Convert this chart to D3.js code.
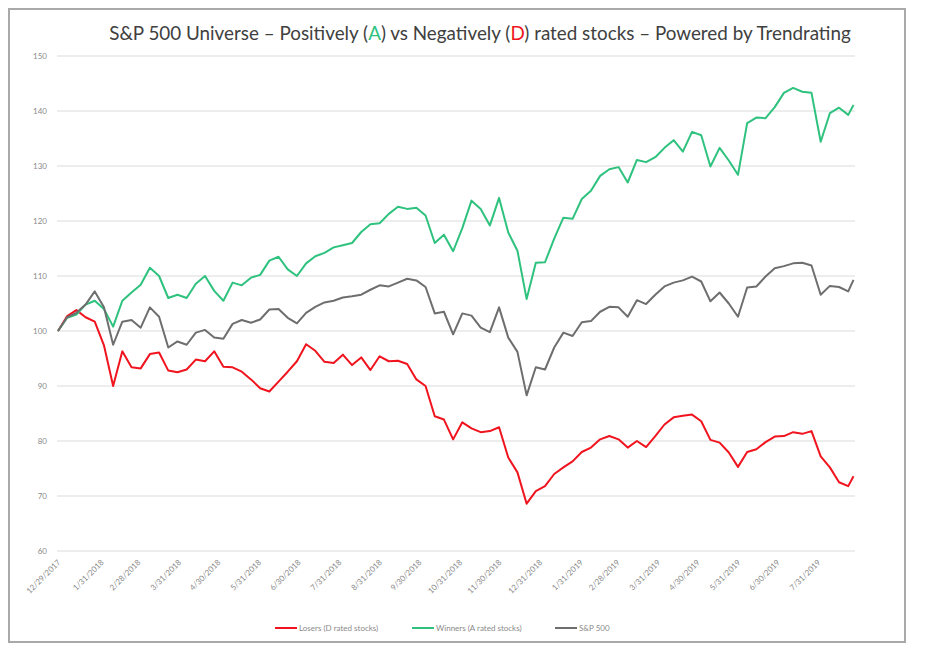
<!DOCTYPE html>
<html>
<head>
<meta charset="utf-8">
<script src="https://cdn.jsdelivr.net/npm/d3@7"></script>
<style>
    body { margin: 0; background: #fff; }
    text { font-family: "Lato", "Open Sans", sans-serif; }
</style>
</head>
<body>
<div id="chart"></div>
<script>

// weekly closes (last point is the final day shown)
let dates = d3.timeFriday.range(new Date(2017, 11, 29), new Date(2019, 7, 24));
dates.push(new Date(2019, 7, 27));

let winners = [
    100, 102.4, 103, 104.8, 105.5, 104, 100.8, 105.5, 107, 108.4,
    111.5, 110, 106, 106.6, 106, 108.6, 110, 107.3, 105.5, 108.8,
    108.3, 109.7, 110.2, 112.8, 113.5, 111.2, 110, 112.3, 113.6, 114.2,
    115.2, 115.6, 116, 118, 119.4, 119.6, 121.3, 122.6, 122.2, 122.4,
    121, 116, 117.5, 114.5, 118.7, 123.7, 122.2, 119.2, 124.2, 117.9,
    114.6, 105.8, 112.4, 112.5, 116.8, 120.6, 120.4, 124, 125.5, 128.2,
    129.4, 129.8, 127, 131.1, 130.7, 131.6, 133.3, 134.7, 132.6, 136.2,
    135.6, 129.9, 133.3, 131, 128.4, 137.8, 138.8, 138.7, 140.7, 143.3,
    144.2, 143.5, 143.3, 134.4, 139.6, 140.6, 139.3, 141.1
];

let sp500 = [
    100, 102.5, 103.3, 104.8, 107.2, 104.3, 97.5, 101.7, 102, 100.6,
    104.3, 102.6, 97, 98.1, 97.5, 99.7, 100.2, 98.8, 98.6, 101.3,
    102, 101.5, 102.1, 103.9, 104, 102.4, 101.4, 103.3, 104.4, 105.2,
    105.5, 106.1, 106.3, 106.6, 107.5, 108.3, 108.1, 108.8, 109.5, 109.2,
    108, 103.2, 103.5, 99.4, 103.2, 102.8, 100.6, 99.8, 104.3, 98.8,
    96.2, 88.3, 93.4, 93, 97, 99.7, 99.1, 101.6, 101.8, 103.5,
    104.4, 104.3, 102.6, 105.6, 104.9, 106.6, 108.1, 108.8, 109.2, 109.9,
    109, 105.4, 107, 105, 102.6, 107.9, 108.1, 109.9, 111.4, 111.8,
    112.3, 112.4, 111.9, 106.6, 108.2, 108, 107.2, 109.3
];

let losers = [
    100, 102.7, 103.8, 102.5, 101.7, 97.4, 90, 96.3, 93.4, 93.2,
    95.8, 96.1, 92.8, 92.5, 93, 94.8, 94.5, 96.3, 93.5, 93.4,
    92.6, 91.2, 89.6, 89, 90.8, 92.6, 94.5, 97.6, 96.4, 94.4,
    94.2, 95.7, 93.8, 95.2, 92.9, 95.4, 94.5, 94.6, 94, 91.2,
    90, 84.5, 83.9, 80.3, 83.4, 82.3, 81.6, 81.8, 82.5, 77,
    74.3, 68.6, 70.9, 71.8, 74, 75.2, 76.3, 78, 78.8, 80.3,
    80.9, 80.3, 78.8, 80, 78.9, 80.9, 83, 84.3, 84.6, 84.8,
    83.6, 80.2, 79.7, 77.9, 75.3, 78, 78.5, 79.8, 80.8, 80.9,
    81.6, 81.3, 81.8, 77.2, 75.2, 72.5, 71.8, 73.6
];

let tickLabels = [
    "12/29/2017", "1/31/2018", "2/28/2018", "3/31/2018", "4/30/2018",
    "5/31/2018", "6/30/2018", "7/31/2018", "8/31/2018", "9/30/2018",
    "10/31/2018", "11/30/2018", "12/31/2018", "1/31/2019", "2/28/2019",
    "3/31/2019", "4/30/2019", "5/31/2019", "6/30/2019", "7/31/2019"
];

let yTicks = [60, 70, 80, 90, 100, 110, 120, 130, 140, 150];

let seriesNames = ["Losers (D rated stocks)", "Winners (A rated stocks)", "S&P 500"];
let seriesColors = ["#f0141e", "#2ec27e", "#6e6e6e"];


let width = 938, height = 647;

let svg = d3.select("#chart").append("svg")
    .attr("width", width)
    .attr("height", height);

svg.append("rect")
    .attr("width", width).attr("height", height)
    .attr("fill", "#fff");

// outer frame of the pasted chart
svg.append("rect")
    .attr("x", 9).attr("y", 9)
    .attr("width", 896).attr("height", 633)
    .attr("fill", "none")
    .attr("stroke", "#a9a9a9")
    .attr("stroke-width", 2);

let parse = d3.timeParse("%m/%d/%Y");

let x = d3.scaleTime()
    .domain([dates[0], dates[dates.length - 1]])
    .range([58, 853.5]);

let y = d3.scaleLinear()
    .domain([60, 150])
    .range([551, 56]);

// gridlines
svg.append("g").selectAll("line")
    .data(yTicks)
    .enter().append("line")
    .attr("x1", 57).attr("x2", 855)
    .attr("y1", d => y(d)).attr("y2", d => y(d))
    .attr("stroke", "#dcdcdc")
    .attr("stroke-width", 1.2);

// y labels
svg.append("g").selectAll("text")
    .data(yTicks)
    .enter().append("text")
    .attr("x", 47)
    .attr("y", d => y(d))
    .attr("dy", "0.35em")
    .attr("text-anchor", "end")
    .style("font-size", "8px")
    .style("fill", "#8a8a8a")
    .text(d => d);

// x labels, rotated
svg.append("g").selectAll("text")
    .data(tickLabels)
    .enter().append("text")
    .attr("text-anchor", "end")
    .attr("transform", d => "translate(" + (x(parse(d)) + 3) + ",563) rotate(-45)")
    .style("font-size", "8px")
    .style("fill", "#8a8a8a")
    .text(d => d);

// lines
let line = d3.line()
    .x((d, i) => x(dates[i]))
    .y(d => y(d));

[losers, winners, sp500].forEach((s, i) => {
    svg.append("path")
        .datum(s)
        .attr("d", line)
        .attr("fill", "none")
        .attr("stroke", seriesColors[i])
        .attr("stroke-width", 2)
        .attr("stroke-linejoin", "round");
});

// title
let title = svg.append("text")
    .attr("x", 480)
    .attr("y", 40)
    .attr("text-anchor", "middle")
    .style("font-size", "19px")
    .style("fill", "#404040");

title.append("tspan").text("S&P 500 Universe \u2013 Positively (");
title.append("tspan").style("fill", seriesColors[1]).text("A");
title.append("tspan").text(") vs Negatively (");
title.append("tspan").style("fill", seriesColors[0]).text("D");
title.append("tspan").text(") rated stocks \u2013 Powered by Trendrating");

// fit the title to the width it has in the picture
let tw = title.node().getComputedTextLength();
title.style("font-size", (19 * 742 / tw) + "px");

// legend
let legendX = [275, 412, 555];
let legend = svg.append("g");

seriesNames.forEach((name, i) => {
    legend.append("line")
        .attr("x1", legendX[i]).attr("x2", legendX[i] + 22)
        .attr("y1", 628).attr("y2", 628)
        .attr("stroke", seriesColors[i])
        .attr("stroke-width", 2);

    legend.append("text")
        .attr("x", legendX[i] + 24)
        .attr("y", 628)
        .attr("dy", "0.35em")
        .style("font-size", "8px")
        .style("fill", "#8a8a8a")
        .text(name);
});

</script>
</body>
</html>
